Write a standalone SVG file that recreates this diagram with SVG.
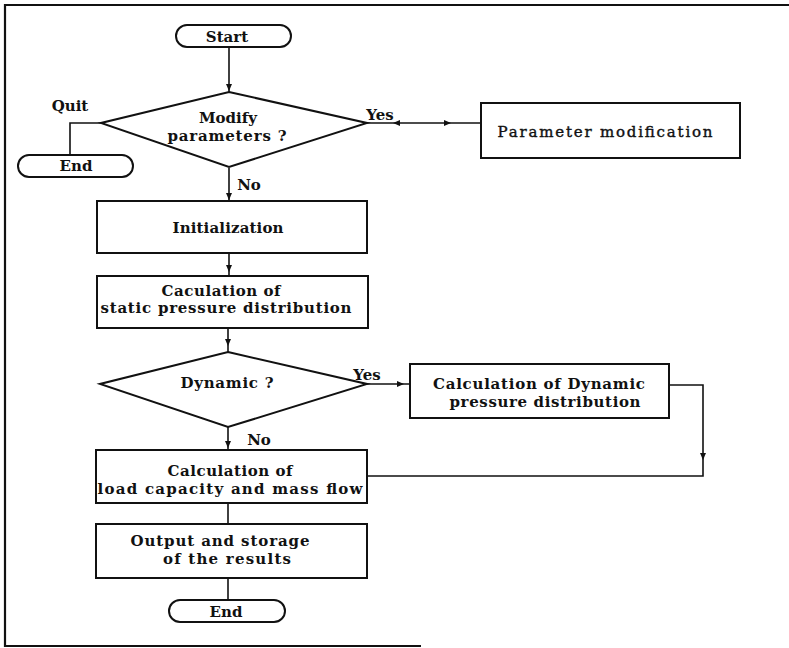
<svg xmlns="http://www.w3.org/2000/svg" xmlns:xlink="http://www.w3.org/1999/xlink" width="789" height="648" viewBox="0 0 789 648">
<style>
  .box { fill: #fff; stroke: #111; stroke-width: 2; }
  .ln { fill: none; stroke: #111; stroke-width: 1.6; }
  .frame { fill: none; stroke: #111; stroke-width: 2.2; }
  text { font-family: "DejaVu Serif", "Liberation Serif", serif; font-size: 15px; font-weight: bold; fill: #111; text-anchor: middle; }
  .norm { font-weight: normal; stroke: #111; stroke-width: 0.4; }
  .ah { fill: #111; }
</style>
<defs>
  <path id="ah" class="ah" d="M0,0 L-7,-3 L-7,3 Z"/>
</defs>
<rect width="789" height="648" fill="#fff"/>
<g id="frame">
  <path class="frame" d="M789,5 L5,5 L5,646 L421,646"/>
</g>
<g id="connectors">
  <path class="ln" d="M229,47 L229,92"/>
  <use xlink:href="#ah" transform="translate(229,91) rotate(90)"/>
  <path class="ln" d="M101,123 L70,123 L70,155"/>
  <path class="ln" d="M366,123 L481,123"/>
  <use xlink:href="#ah" transform="translate(393,123) rotate(180)"/>
  <use xlink:href="#ah" transform="translate(451,123)"/>
  <path class="ln" d="M229,168 L229,201"/>
  <use xlink:href="#ah" transform="translate(229,200) rotate(90)"/>
  <path class="ln" d="M229,253 L229,276"/>
  <use xlink:href="#ah" transform="translate(229,272) rotate(90)"/>
  <path class="ln" d="M228,328 L228,352"/>
  <use xlink:href="#ah" transform="translate(228,346) rotate(90)"/>
  <path class="ln" d="M366,384 L410,384"/>
  <use xlink:href="#ah" transform="translate(404,384)"/>
  <path class="ln" d="M669,385 L703,385 L703,476 L367,476"/>
  <use xlink:href="#ah" transform="translate(703,460) rotate(90)"/>
  <path class="ln" d="M228,427 L228,450"/>
  <use xlink:href="#ah" transform="translate(228,448) rotate(90)"/>
  <path class="ln" d="M228,503 L228,524"/>
  <path class="ln" d="M228,578 L228,600"/>
</g>
<g id="start">
  <rect class="box" x="176" y="25" width="115" height="22" rx="11"/>
  <text x="227" y="42">Start</text>
</g>
<g id="modify">
  <polygon class="box" points="229,92 367,123 229,167 101,123"/>
  <text x="228" y="123">Modify</text>
  <text x="227" y="141" textLength="119">parameters ?</text>
</g>
<g id="quit-label"><text x="70" y="111">Quit</text></g>
<g id="yes1-label"><text x="380" y="120">Yes</text></g>
<g id="end1">
  <rect class="box" x="18" y="155" width="115" height="22" rx="11"/>
  <text x="76" y="171">End</text>
</g>
<g id="parammod">
  <rect class="box" x="481" y="103" width="259" height="55"/>
  <text class="norm" x="605" y="137" textLength="215">Parameter modification</text>
</g>
<g id="no1-label"><text x="249" y="190">No</text></g>
<g id="init">
  <rect class="box" x="97" y="201" width="270" height="52"/>
  <text x="228" y="233" textLength="111">Initialization</text>
</g>
<g id="static">
  <rect class="box" x="97" y="276" width="271" height="52"/>
  <text x="221" y="296" textLength="119">Caculation of</text>
  <text x="226" y="313" textLength="251">static pressure distribution</text>
</g>
<g id="dynamic">
  <polygon class="box" points="228,352 367,384 228,427 100,384"/>
  <text x="227" y="388" textLength="93">Dynamic ?</text>
</g>
<g id="yes2-label"><text x="367" y="380">Yes</text></g>
<g id="dynpress">
  <rect class="box" x="410" y="364" width="259" height="54"/>
  <text x="539" y="389" textLength="212">Calculation of Dynamic</text>
  <text x="545" y="407" textLength="191">pressure distribution</text>
</g>
<g id="no2-label"><text x="259" y="445">No</text></g>
<g id="load">
  <rect class="box" x="96" y="450" width="271" height="53"/>
  <text x="230" y="476" textLength="125">Calculation of</text>
  <text x="230" y="494" textLength="265">load capacity and mass flow</text>
</g>
<g id="output">
  <rect class="box" x="96" y="524" width="271" height="54"/>
  <text x="220" y="546" textLength="179">Output and storage</text>
  <text x="227" y="564" textLength="128">of the results</text>
</g>
<g id="end2">
  <rect class="box" x="169" y="600" width="116" height="22" rx="11"/>
  <text x="226" y="617">End</text>
</g>
</svg>
